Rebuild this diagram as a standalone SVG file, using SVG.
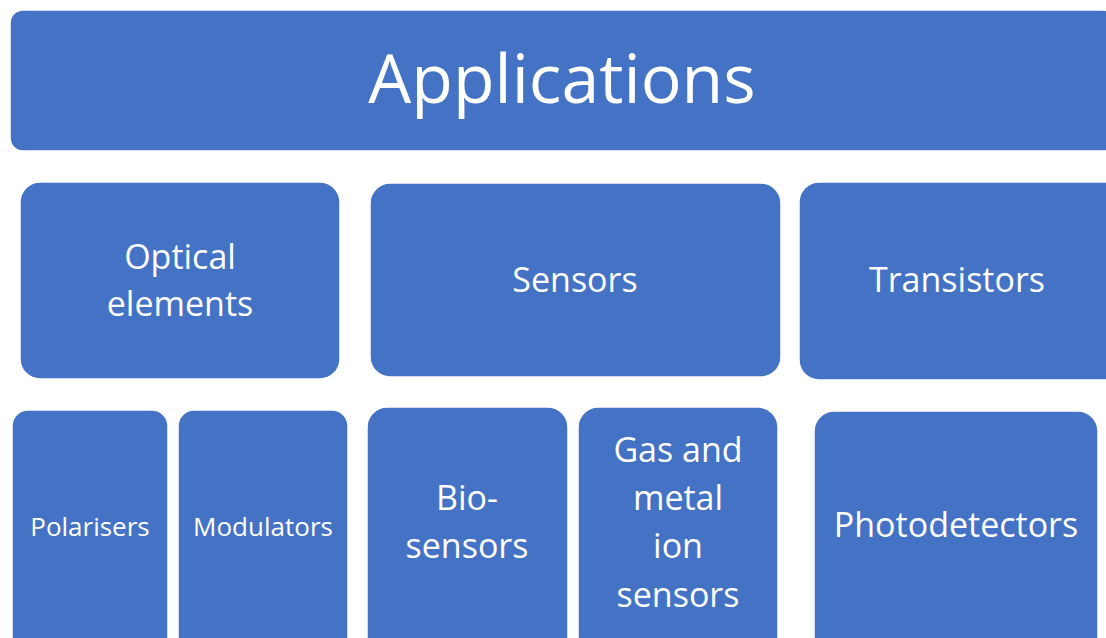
<svg xmlns="http://www.w3.org/2000/svg" width="1106" height="638" viewBox="0 0 1106 638">
<style>
.b{fill:#4472C4;stroke:#ffffff;stroke-width:1.5}
.t{fill:#ffffff;font-family:"Open Sans","Noto Sans",sans-serif;text-anchor:middle}
.l{font-size:34px}
.s{font-size:26px}
</style>
<rect width="1106" height="638" fill="#ffffff"/>
<g id="applications"><rect class="b" x="10" y="10" width="1106" height="141" rx="13"/><text class="t" x="562" y="103" font-size="68">Applications</text></g>
<g id="optical"><rect class="b" x="20" y="182" width="320" height="197" rx="20"/><text class="t l" x="180" y="269">Optical</text><text class="t l" x="180" y="316">elements</text></g>
<g id="sensors"><rect class="b" x="370" y="183" width="411" height="194" rx="20"/><text class="t l" x="575" y="292">Sensors</text></g>
<g id="transistors"><rect class="b" x="799" y="182" width="330" height="198" rx="20"/><text class="t l" x="957" y="292">Transistors</text></g>
<g id="polarisers"><rect class="b" x="12" y="410" width="156" height="250" rx="16"/><text class="t s" x="90" y="536">Polarisers</text></g>
<g id="modulators"><rect class="b" x="178" y="410" width="170" height="250" rx="16"/><text class="t s" x="263" y="536">Modulators</text></g>
<g id="biosensors"><rect class="b" x="367" y="407" width="201" height="250" rx="20"/><text class="t l" x="467" y="510">Bio-</text><text class="t l" x="467" y="558">sensors</text></g>
<g id="gas"><rect class="b" x="578" y="407" width="200" height="250" rx="20"/><text class="t l" x="678" y="462">Gas and</text><text class="t l" x="678" y="510">metal</text><text class="t l" x="678" y="558">ion</text><text class="t l" x="678" y="607">sensors</text></g>
<g id="photodetectors"><rect class="b" x="814" y="411" width="284" height="250" rx="20"/><text class="t l" x="956" y="537">Photodetectors</text></g>
<g id="connectors"></g>
</svg>
